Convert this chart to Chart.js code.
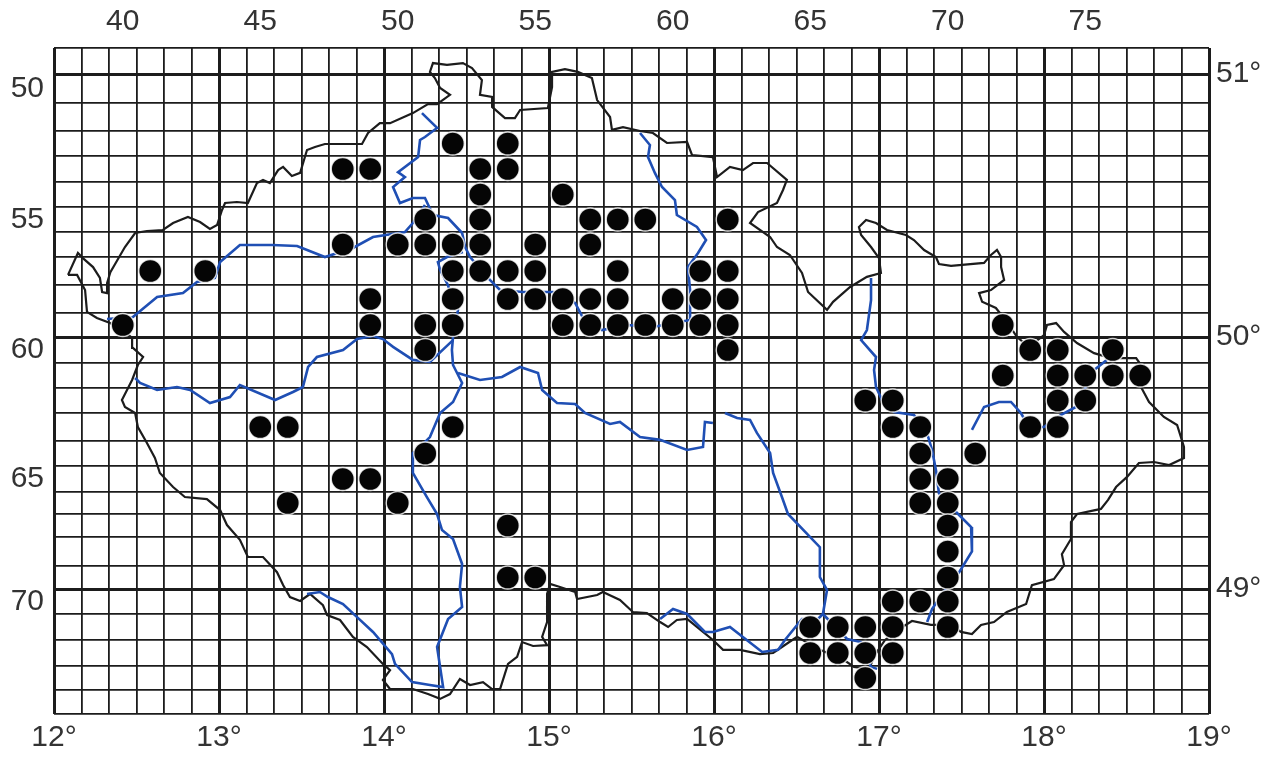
<!DOCTYPE html>
<html><head><meta charset="utf-8">
<style>html,body{margin:0;padding:0;background:#fff}canvas{display:block}</style>
<script src="https://cdn.jsdelivr.net/npm/chart.js@4"></script>
</head><body><canvas id="c" width="1274" height="757"></canvas>
<script>
const topLabels=[40,45,50,55,60,65,70,75];
const leftLabels=[50,55,60,65,70];
const lonLabels=['12°','13°','14°','15°','16°','17°','18°','19°'];
const lonColumns=[37.5,43.5,49.5,55.5,61.5,67.5,73.5,79.5];
const latLabels=['51°','50°','49°'];
const latRows=[49.5,59.5,69.5];
const rowEdges=[48,74,103,131,156,182,207,232,257,285,313,337,363,388,413,441,466,492,514,537,566,589,614,640,666,690,714];
const dots=[[40,59],[41,57],[43,57],[48,53],[49,53],[52,52],[54,52],[53,53],[54,53],[53,54],[56,54],
[51,55],[53,55],[57,55],[58,55],[59,55],[62,55],[48,56],[50,56],[51,56],[52,56],[53,56],[55,56],[57,56],
[52,57],[53,57],[54,57],[55,57],[58,57],[61,57],[62,57],[49,58],[52,58],[54,58],[55,58],[56,58],[57,58],[58,58],[60,58],[61,58],[62,58],
[49,59],[51,59],[52,59],[56,59],[57,59],[58,59],[59,59],[60,59],[61,59],[62,59],[51,60],[62,60],
[72,59],[73,60],[74,60],[76,60],[72,61],[74,61],[75,61],[76,61],[77,61],[67,62],[68,62],[74,62],[75,62],
[45,63],[46,63],[52,63],[68,63],[69,63],[73,63],[74,63],[51,64],[69,64],[71,64],[48,65],[49,65],[69,65],[70,65],
[46,66],[50,66],[69,66],[70,66],[54,67],[70,67],[70,68],[54,69],[55,69],[70,69],[68,70],[69,70],[70,70],
[65,71],[66,71],[67,71],[68,71],[70,71],[65,72],[66,72],[67,72],[68,72],[67,73]];
const border=[[38.01,57.14],[38.37,56.34],[38.55,56.54],[38.92,56.86],[39.17,57.25],[39.25,57.75],[39.43,57.79],[39.43,57.43],[39.55,57.04],[40.08,56.1],[40.45,55.54],[40.88,55.46],[41.46,55.42],[41.83,55.14],[42.37,54.9],[42.81,55.1],[43.17,55.38],[43.43,55.22],[43.61,54.62],[43.72,54.34],[44.15,54.3],[44.55,54.34],[44.88,53.54],[45.1,53.42],[45.35,53.54],[45.65,53.04],[45.83,52.92],[46.15,53.27],[46.45,53.15],[46.7,52.26],[46.99,52.14],[47.35,52.02],[48.7,52.02],[48.92,51.58],[49.35,51.22],[49.72,51.22],[50.55,50.86],[51.1,50.54],[51.43,50.54],[51.9,50.22],[51.54,49.98],[51.35,49.64],[51.17,49.42],[51.28,49.08],[51.79,49.15],[52.37,49.08],[52.7,49.27],[53.06,49.71],[52.99,50.22],[53.43,50.29],[53.43,50.64],[53.9,51.04],[54.26,51.04],[54.45,50.75],[55.46,50.68],[55.61,49.95],[55.61,49.42],[56.08,49.31],[56.55,49.42],[57.06,49.64],[57.25,50.4],[57.72,51.0],[57.79,51.46],[58.19,51.36],[58.81,51.5],[59.28,51.58],[59.79,51.98],[60.52,51.94],[60.7,52.46],[61.46,52.54],[61.61,53.31],[62.08,52.92],[62.55,53.04],[62.92,52.77],[63.43,52.77],[64.15,53.42],[64.01,53.82],[63.79,54.34],[63.1,54.7],[62.81,55.14],[63.54,55.7],[63.79,56.1],[64.26,56.42],[64.7,57.07],[64.92,57.75],[65.61,58.39],[65.83,58.1],[66.45,57.57],[67.06,57.21],[67.57,57.07],[67.5,56.54],[67.21,56.1],[66.85,55.62],[66.77,55.3],[67.03,55.02],[67.39,55.14],[67.79,55.42],[68.48,55.62],[68.77,55.82],[69.14,56.22],[69.57,56.5],[69.68,56.75],[70.12,56.82],[71.32,56.71],[71.57,56.42],[71.79,56.22],[71.94,56.5],[71.94,56.86],[72.05,57.32],[71.57,57.68],[71.14,57.79],[71.25,58.1],[71.75,58.32],[72.15,58.87],[72.52,59.5],[72.95,59.88],[73.5,59.42],[73.61,59.0],[73.94,58.92],[74.23,59.29],[74.7,59.73],[75.32,60.12],[75.94,60.31],[76.85,60.31],[77.03,60.58],[76.95,61.3],[77.32,62.06],[77.86,62.64],[78.34,62.93],[78.59,63.74],[78.59,64.18],[78.05,64.46],[77.5,64.34],[76.95,64.38],[76.52,64.92],[76.12,65.31],[75.83,65.86],[75.57,66.27],[74.7,66.5],[74.48,66.85],[74.48,67.57],[74.15,68.09],[74.23,68.47],[73.86,69.07],[73.06,69.33],[72.85,70.1],[72.15,70.42],[71.68,70.81],[71.21,70.92],[70.88,71.27],[70.48,71.19],[70.12,70.92],[69.39,70.92],[68.7,70.77],[68.23,71.08],[67.72,71.5],[67.35,72.08],[67.14,72.62],[66.59,72.54],[66.23,72.27],[65.35,71.88],[64.52,71.38],[63.97,71.77],[63.65,72.0],[63.17,72.04],[62.45,71.88],[61.83,71.88],[61.46,71.5],[61.1,71.19],[60.52,70.69],[60.15,70.73],[59.83,71.0],[59.54,70.81],[59.06,70.46],[58.55,70.42],[58.08,69.94],[57.46,69.62],[57.25,69.74],[56.52,69.9],[56.45,69.62],[55.9,69.41],[55.54,69.28],[55.43,69.7],[55.43,70.81],[55.25,71.38],[55.43,71.7],[54.92,71.73],[54.52,71.58],[54.34,72.15],[54.01,72.42],[53.72,73.46],[53.43,73.46],[53.1,73.17],[52.63,73.29],[52.26,73.04],[51.9,73.67],[51.54,73.87],[51.1,73.67],[50.55,73.46],[49.72,73.46],[49.46,73.08],[49.72,72.67],[49.46,72.42],[48.88,71.77],[48.37,71.38],[47.9,70.73],[47.43,70.54],[47.28,70.15],[46.81,69.7],[46.45,69.98],[46.08,69.82],[45.83,69.33],[45.61,68.77],[45.1,68.19],[44.55,68.19],[44.26,67.6],[43.79,66.98],[43.54,66.32],[43.06,65.82],[42.26,65.73],[41.83,65.31],[41.35,64.77],[41.17,64.18],[40.88,63.58],[40.55,63.0],[40.45,62.5],[40.08,62.26],[39.97,61.98],[40.34,61.18],[40.55,60.58],[40.74,60.27],[40.37,59.92],[40.34,59.54],[40.01,59.22],[39.54,58.92],[39.06,58.71],[38.7,58.46],[38.63,57.68],[38.34,57.14],[38.01,57.14]];
const elbe=[[58.81,51.58],[59.17,52.06],[59.1,52.54],[59.35,53.15],[59.61,53.7],[60.08,54.22],[60.15,54.82],[60.88,55.3],[61.21,55.82],[60.92,56.34],[60.55,56.86],[60.63,57.68],[60.63,58.79],[59.28,59.08],[58.34,59.0],[57.43,59.21],[56.74,58.71],[56.45,58.14],[55.65,57.75],[54.55,57.75],[53.72,57.68],[53.35,57.32],[52.63,56.5],[52.45,56.1],[52.34,55.54],[51.83,54.94],[51.28,54.82],[50.99,54.14],[50.55,54.14],[50.08,54.34],[49.83,53.7],[50.26,53.31],[50.01,53.12],[50.74,52.54],[50.81,51.86],[50.99,51.74],[51.43,51.39],[50.88,50.86]];
const ohre=[[39.43,58.75],[40.37,58.67],[41.25,57.93],[42.19,57.79],[42.7,57.39],[43.35,57.25],[43.54,56.68],[44.26,56.02],[45.43,56.02],[46.34,56.06],[47.35,56.5],[48.37,56.14],[49.1,55.7],[50.26,55.5],[50.55,55.14],[50.99,54.42]];
const vltava=[[52.37,56.3],[51.79,56.5],[51.46,56.68],[51.54,56.96],[51.79,57.43],[52.19,58.39],[52.01,59.5],[51.97,60.0],[52.01,60.58],[52.34,61.3],[52.01,62.06],[51.54,62.5],[51.17,63.36],[50.81,63.74],[50.55,63.98],[50.55,64.77],[51.06,65.73],[51.43,66.5],[51.61,67.2],[52.01,67.57],[52.34,68.43],[52.26,69.41],[52.34,70.22],[51.83,70.69],[51.43,71.77],[51.65,73.38],[51.17,73.29],[50.52,73.17],[49.9,72.42],[49.79,72.04],[49.1,71.19],[48.52,70.62],[48.01,70.1],[47.46,69.82],[47.17,69.62],[46.7,69.7]];
const berounka=[[52.01,59.62],[51.17,60.46],[50.55,60.38],[49.83,59.88],[49.46,59.58],[49.1,59.46],[48.52,59.58],[48.01,60.0],[47.06,60.27],[46.74,60.66],[46.55,61.46],[46.19,61.66],[45.54,61.98],[44.26,61.38],[43.9,61.86],[43.17,62.1],[42.45,61.58],[41.97,61.46],[41.25,61.58],[40.63,61.3],[40.45,61.1]];
const sazava=[[52.19,60.9],[52.99,61.18],[53.79,61.06],[54.45,60.66],[55.1,60.9],[55.25,61.58],[55.79,62.1],[56.45,62.14],[56.81,62.5],[57.72,62.89],[58.08,62.82],[58.81,63.36],[59.54,63.46],[60.52,63.86],[61.1,63.74],[61.17,62.82],[61.46,62.86]];
const svratka=[[61.9,62.5],[62.34,62.68],[62.81,62.75],[63.06,63.21],[63.54,63.98],[63.65,64.77],[63.97,65.73],[64.19,66.5],[65.35,67.85],[65.35,68.98],[65.61,69.54],[65.46,70.5],[65.28,70.69],[64.7,70.69],[64.08,71.5],[63.83,71.88],[63.25,71.96],[62.08,71.0],[61.46,71.19],[61.17,71.19],[60.52,70.5],[60.01,70.3],[59.54,70.69]];
const dyje=[[65.46,70.5],[66.34,71.46],[66.85,71.58],[67.21,72.54],[67.43,72.62]];
const morava=[[67.21,57.25],[67.21,58.04],[67.06,59.21],[66.85,59.62],[67.39,60.27],[67.32,60.78],[67.39,61.46],[67.61,61.98],[68.05,62.46],[68.77,62.57],[69.21,63.1],[69.43,63.86],[69.57,64.65],[69.68,65.55],[70.23,66.32],[70.85,67.07],[70.88,68.0],[70.41,68.78],[69.9,69.54],[69.43,70.3],[69.25,70.81]];
const odra=[[70.88,63.1],[71.32,62.26],[71.86,62.06],[72.3,62.06],[72.66,62.5],[72.95,63.0],[73.5,63.0],[74.12,62.57],[74.66,62.26],[75.32,60.78],[75.79,60.38]];

const INK='#1c1c1c', BLUE='#1f4fb4', TXT='#333333';
const FONT={family:"'Liberation Sans', Arial, sans-serif",size:30};
const pts=a=>a.map(p=>({x:p[0],y:p[1]}));

class RowScale extends Chart.LinearScale{
  static id='rowscale';
  getPixelForValue(v){
    if(v===null||v===undefined) return NaN;
    const t=v-48.5, i=Math.max(0,Math.min(rowEdges.length-2,Math.floor(t)));
    const px=rowEdges[i]+(t-i)*(rowEdges[i+1]-rowEdges[i]);
    return this.top+(px-rowEdges[0])/(rowEdges[rowEdges.length-1]-rowEdges[0])*this.height;
  }
  getValueForPixel(p){
    const q=rowEdges[0]+(p-this.top)/this.height*(rowEdges[rowEdges.length-1]-rowEdges[0]);
    for(let i=0;i<rowEdges.length-1;i++) if(q<=rowEdges[i+1]) return 48.5+i+(q-rowEdges[i])/(rowEdges[i+1]-rowEdges[i]);
    return 74.5;
  }
}
Chart.register(RowScale);

const range=(a,b)=>{const r=[];for(let v=a;v<=b;v++)r.push(v);return r;};
const setTicks=vals=>s=>{s.ticks=vals.map(v=>({value:v}));};
const fix=(k,n)=>s=>{s[k]=n;};
const line=(data,color,w,id)=>({type:'line',label:id,data:pts(data),borderColor:color,borderWidth:w,pointRadius:0,tension:0,fill:false,order:id==='Border'?2:1,clip:false});

new Chart(document.getElementById('c'),{
  type:'scatter',
  data:{datasets:[
    {type:'scatter',label:'Records',data:pts(dots),order:0,pointRadius:11.5,backgroundColor:'#050505',borderColor:'rgba(255,255,255,0.8)',borderWidth:1.4,clip:false},
    line(border,INK,2.2,'Border'),
    line(elbe,BLUE,2.6,'Elbe'),line(ohre,BLUE,2.6,'Ohre'),line(vltava,BLUE,2.6,'Vltava'),
    line(berounka,BLUE,2.6,'Berounka'),line(sazava,BLUE,2.6,'Sazava'),line(svratka,BLUE,2.6,'Svratka'),
    line(dyje,BLUE,2.6,'Dyje'),line(morava,BLUE,2.6,'Morava'),line(odra,BLUE,2.6,'Odra')
  ]},
  options:{
    responsive:false,animation:false,events:[],devicePixelRatio:1,
    layout:{padding:0},
    plugins:{legend:{display:false},tooltip:{enabled:false},title:{display:false}},
    scales:{
      x:{type:'linear',position:'bottom',min:37.5,max:79.5,border:{display:false},
        afterBuildTicks:setTicks(range(37,79).map(v=>v+0.5)),afterFit:fix('height',43),
        grid:{drawTicks:false,color:INK,lineWidth:c=>lonColumns.includes(c.tick.value)?3:1.8},
        ticks:{autoSkip:false,maxRotation:0,padding:6,color:TXT,font:FONT,
          callback:v=>{const i=lonColumns.indexOf(v);return i<0?'':lonLabels[i];}}},
      xTop:{axis:'x',type:'linear',position:'top',min:37.5,max:79.5,border:{display:false},
        afterBuildTicks:setTicks(topLabels),afterFit:fix('height',48),
        grid:{display:false,drawTicks:false},
        ticks:{autoSkip:false,maxRotation:0,padding:8,color:TXT,font:FONT,callback:v=>String(v)}},
      y:{type:'rowscale',position:'right',min:48.5,max:74.5,border:{display:false},
        afterBuildTicks:setTicks(range(48,74).map(v=>v+0.5)),afterFit:fix('width',65),
        grid:{drawTicks:false,color:INK,lineWidth:c=>latRows.includes(c.tick.value)?3:1.8},
        ticks:{autoSkip:false,padding:7,color:TXT,font:FONT,
          callback:v=>{const i=latRows.indexOf(v);return i<0?'':latLabels[i];}}},
      yLeft:{axis:'y',type:'rowscale',position:'left',min:48.5,max:74.5,border:{display:false},
        afterBuildTicks:setTicks(leftLabels),afterFit:fix('width',54),
        grid:{display:false,drawTicks:false},
        ticks:{autoSkip:false,padding:10,color:TXT,font:FONT,callback:v=>String(v)}}
    }
  }
});
</script></body></html>
